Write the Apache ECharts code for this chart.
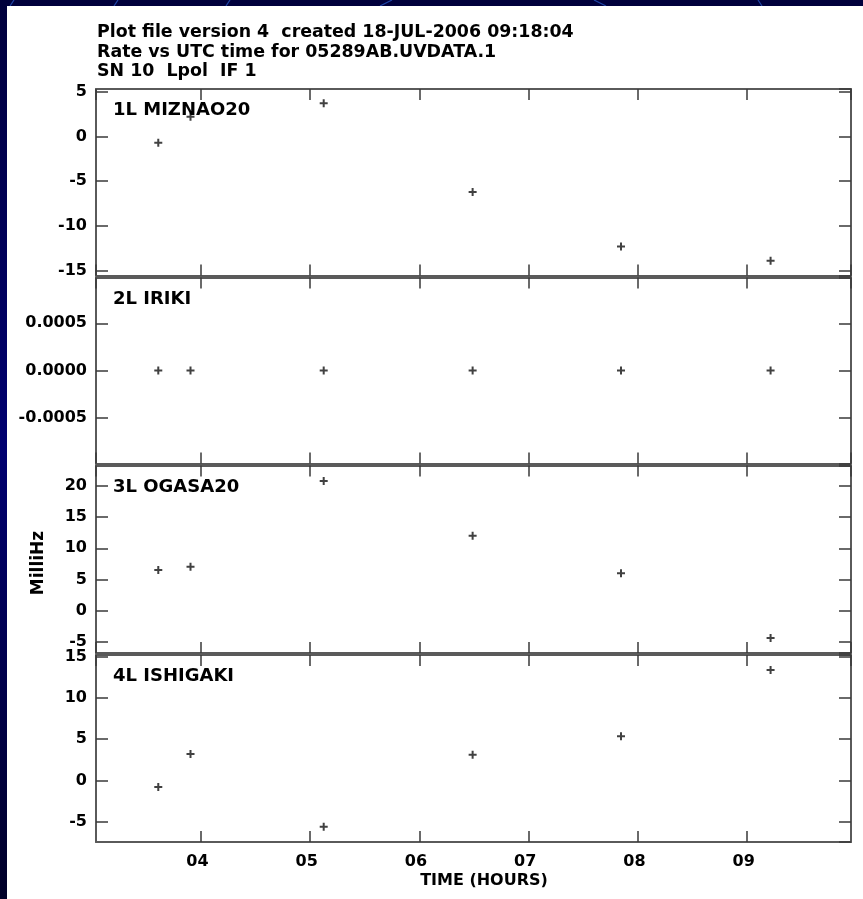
<!DOCTYPE html>
<html><head><meta charset="utf-8">
<script src="https://cdn.jsdelivr.net/npm/echarts@6/dist/echarts.min.js"></script>
<style>html,body{margin:0;padding:0;background:#000040}#c{width:863px;height:899px}</style>
</head><body><div id="c"></div>
<script>
// ---- data ----
const times = [3.61, 3.905, 5.124, 6.487, 7.845, 9.214];
const mizNao20 = [-0.7, 2.2, 3.7, -6.2, -12.3, -13.9];
const iriki = [0, 0, 0, 0, 0, 0];
const ogasa20 = [6.5, 7.05, 20.8, 12.0, 6.0, -4.4];
const ishigaki = [-0.8, 3.2, -5.6, 3.1, 5.35, 13.35];
const panelNames = ['1L MIZNAO20', '2L IRIKI', '3L OGASA20', '4L ISHIGAKI'];
const panelValues = [mizNao20, iriki, ogasa20, ishigaki];
const yMin = [-15.54, -0.000985, -6.81, -7.46];
const yMax = [5.30, 0.000985, 23.29, 15.17];
const ySplit = [4, 4, 6, 5];
const xMin = 3.04, xMax = 9.95;
const titleLines = [
  'Plot file version 4  created 18-JUL-2006 09:18:04',
  'Rate vs UTC time for 05289AB.UVDATA.1',
  'SN 10  Lpol  IF 1'
];
const xAxisTitle = 'TIME (HOURS)';
const yAxisTitle = 'MilliHz';

// ---- layout ----
const FONT = 'DejaVu Sans';
const gridBoxes = [
  {top: 89, height: 186.5},
  {top: 277.5, height: 186},
  {top: 465.5, height: 187.5},
  {top: 655, height: 187}
];
const frameColor = '#5a5a5a';
const tickColor = '#3a3a3a';

const chart = echarts.init(document.getElementById('c'));
const grids = [], xAxes = [], yAxes = [], series = [], graphics = [];

function yFmt(i) {
  return function (v) {
    if (i === 1) { if (Math.abs(v) < 1e-9) return '0.0000'; return v.toFixed(4); }
    return String(Math.round(v));
  };
}

gridBoxes.forEach(function (b, i) {
  grids.push({left: 96, width: 755, top: b.top, height: b.height, containLabel: false});
  const axLine = {show: true, onZero: false, lineStyle: {color: frameColor, width: 2}};
  xAxes.push({
    type: 'value', gridIndex: i, position: 'bottom', min: xMin, max: xMax, splitNumber: 7,
    axisLine: axLine, splitLine: {show: false},
    axisTick: {show: true, inside: true, length: 11, lineStyle: {color: tickColor, width: 1.5}},
    axisLabel: {show: i === 3, showMinLabel: false, showMaxLabel: false, margin: 12,
      fontFamily: FONT, fontWeight: 'bold', fontSize: 16, color: '#000', padding: [0, 7, 0, 0],
      formatter: function (v) { return (v < 10 ? '0' : '') + Math.round(v); }}
  });
  xAxes.push({
    type: 'value', gridIndex: i, position: 'top', min: xMin, max: xMax, splitNumber: 7,
    axisLine: axLine, splitLine: {show: false},
    axisTick: {show: true, inside: true, length: 11, lineStyle: {color: tickColor, width: 1.5}},
    axisLabel: {show: false}
  });
  yAxes.push({
    type: 'value', gridIndex: i, position: 'left', min: yMin[i], max: yMax[i], splitNumber: ySplit[i],
    axisLine: axLine, splitLine: {show: false},
    axisTick: {show: true, inside: true, length: 12, lineStyle: {color: tickColor, width: 1.5}},
    axisLabel: {show: true, showMinLabel: false, showMaxLabel: false, margin: 9,
      fontFamily: FONT, fontWeight: 'bold', fontSize: 16, color: '#000', formatter: yFmt(i)}
  });
  yAxes.push({
    type: 'value', gridIndex: i, position: 'right', min: yMin[i], max: yMax[i], splitNumber: ySplit[i],
    axisLine: axLine, splitLine: {show: false},
    axisTick: {show: true, inside: true, length: 12, lineStyle: {color: tickColor, width: 1.5}},
    axisLabel: {show: false}
  });
  series.push({
    type: 'scatter', xAxisIndex: i * 2, yAxisIndex: i * 2,
    data: times.map(function (t, k) { return [t, panelValues[i][k]]; }),
    symbol: 'path://M3.75,0h2.5v3.75h3.75v2.5h-3.75v3.75h-2.5v-3.75h-3.75v-2.5h3.75z', symbolSize: 8,
    itemStyle: {color: '#111'}, silent: true, z: 3
  });
  graphics.push({
    type: 'text', x: 113, y: b.top + 21.5, z: 100,
    style: {text: panelNames[i], font: 'bold 18px "' + FONT + '"', fill: '#000', verticalAlign: 'middle'}
  });
});

graphics.unshift({type: 'rect', shape: {x: 7, y: 6, width: 856, height: 893}, style: {fill: '#fff'}, z: -10});
[[14, 0, 10, 6], [118, 0, 114, 6], [230, 0, 226, 6], [380, 6, 392, 0], [594, 0, 606, 6], [758, 0, 762, 6]].forEach(function (s) {
  graphics.push({type: 'line', shape: {x1: s[0], y1: s[1], x2: s[2], y2: s[3]}, style: {stroke: '#1f45a8', lineWidth: 1.2}, z: -11});
});
titleLines.forEach(function (t, k) {
  graphics.push({type: 'text', x: 97, y: 32.5 + k * 19.5, z: 100,
    style: {text: t, font: 'bold 17.4px "' + FONT + '"', fill: '#000', verticalAlign: 'middle'}});
});
graphics.push({type: 'text', x: 484, y: 881, z: 100,
  style: {text: xAxisTitle, font: 'bold 16px "' + FONT + '"', fill: '#000', align: 'center', verticalAlign: 'middle'}});
graphics.push({type: 'text', x: 39, y: 563, rotation: Math.PI / 2, z: 100,
  style: {text: yAxisTitle, font: 'bold 17px "' + FONT + '"', fill: '#000', align: 'center', verticalAlign: 'middle'}});

chart.setOption({
  backgroundColor: new echarts.graphic.LinearGradient(0, 0, 0, 1, [
    {offset: 0, color: '#00003c'}, {offset: 0.5, color: '#000070'}, {offset: 1, color: '#000028'}
  ]),
  animation: false,
  grid: grids, xAxis: xAxes, yAxis: yAxes, series: series, graphic: graphics
});
</script></body></html>
